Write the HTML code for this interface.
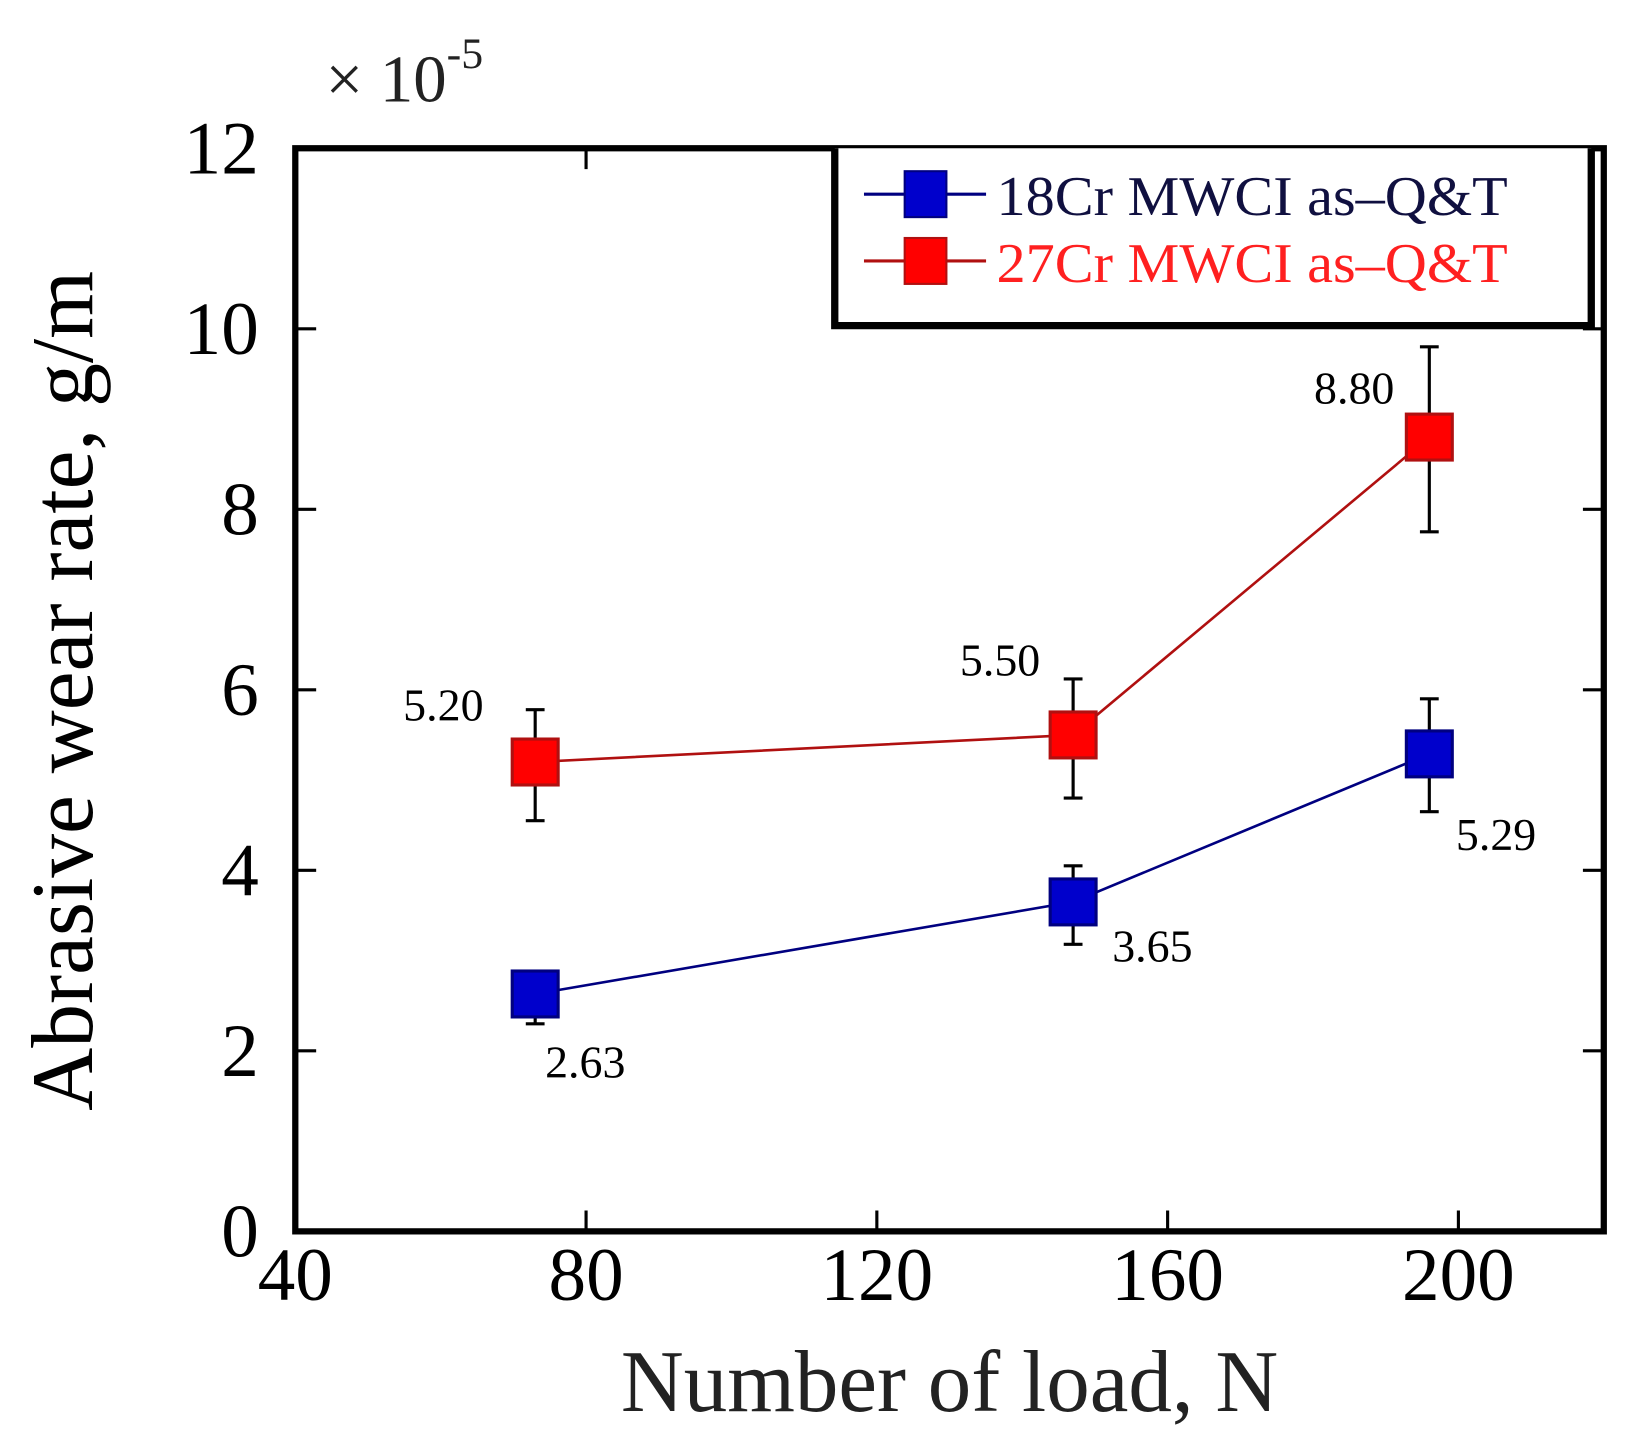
<!DOCTYPE html>
<html><head><meta charset="utf-8"><style>
html,body{margin:0;padding:0;background:#fff;}
svg{display:block;font-family:"Liberation Serif",serif;}
</style></head><body>
<svg id="chart" width="1633" height="1437" viewBox="0 0 1565 1377" xmlns="http://www.w3.org/2000/svg">
</svg>
<script>
const xTicks = [40, 80, 120, 160, 200];
const yTicks = [0, 2, 4, 6, 8, 10, 12];
const loads = [73, 147, 196];
const blueVals = [2.63, 3.65, 5.29];
const blueLo = [2.3, 3.18, 4.65];
const blueHi = [2.85, 4.05, 5.9];
const redVals = [5.2, 5.5, 8.8];
const redLo = [4.55, 4.8, 7.75];
const redHi = [5.78, 6.12, 9.8];
const blueLabels = ["2.63", "3.65", "5.29"];
const redLabels = ["5.20", "5.50", "8.80"];

const NS = "http://www.w3.org/2000/svg";
const svg = document.getElementById('chart');
const X0 = 283, X1 = 1537, Y0 = 1180, Y1 = 142;
const xS = v => X0 + (v - 40) / 180 * (X1 - X0);
const yS = v => Y0 - v / 12 * (Y0 - Y1);
function mk(tag, attrs, parent) {
  const e = document.createElementNS(NS, tag);
  for (const k in attrs) e.setAttribute(k, attrs[k]);
  (parent || svg).appendChild(e);
  return e;
}
xTicks.forEach((t, i) => {
  if (i > 0) {
    const tk = mk('line', {x1: xS(t), x2: xS(t), y1: Y0, y2: Y0 - 20, stroke: '#000', 'stroke-width': 3});
    
    
    const tt = mk('line', {x1: xS(t), x2: xS(t), y1: Y1, y2: Y1 + 20, stroke: '#000', 'stroke-width': 3});
    
    
  }
  const lb = mk('text', {x: xS(t), y: 1246, 'font-size': 72, 'text-anchor': 'middle'});
  lb.textContent = t;
  
  
});
yTicks.forEach((t, i) => {
  if (i > 0 && i < yTicks.length - 1) {
    const tk = mk('line', {x1: X0, x2: X0 + 20, y1: yS(t), y2: yS(t), stroke: '#000', 'stroke-width': 3});
    
    
    const tr = mk('line', {x1: X1, x2: X1 - 20, y1: yS(t), y2: yS(t), stroke: '#000', 'stroke-width': 3});
    
    
  }
  const lb = mk('text', {x: 248, y: yS(t) + 24, 'font-size': 72, 'text-anchor': 'end'});
  lb.textContent = t;
  
  
});
const fr = mk('rect', {x: X0, y: Y1, width: X1 - X0, height: Y0 - Y1, fill: 'none', stroke: '#000', 'stroke-width': 6});



function series(vals, lo, hi, labels, col, dark, name, offs) {
  const pts = vals.map((v, i) => xS(loads[i]) + ',' + yS(v)).join(' ');
  const pl = mk('polyline', {points: pts, fill: 'none', stroke: dark, 'stroke-width': 2.5});
  
  
  vals.forEach((v, i) => {
    const x = xS(loads[i]);
    const eb = mk('path', {d: `M${x},${yS(lo[i])}V${yS(hi[i])}M${x-9},${yS(lo[i])}H${x+9}M${x-9},${yS(hi[i])}H${x+9}`, stroke: '#000', 'stroke-width': 3, fill: 'none'});
    
    
    const m = mk('rect', {x: x - 22, y: yS(v) - 22, width: 44, height: 44, fill: col, stroke: dark, 'stroke-width': 3});
    
    
    const t = mk('text', {x: x + offs[i][0], y: yS(v) + offs[i][1], 'font-size': 44, 'text-anchor': 'middle'});
    t.textContent = labels[i];
    
    
  });
}
series(redVals, redLo, redHi, redLabels, '#ff0000', '#b01010', 'red-series', [[-88, -40], [-70, -57], [-72, -32]]);
series(blueVals, blueLo, blueHi, blueLabels, '#0000cc', '#000080', 'blue-series', [[48, 80], [76, 57], [64, 92]]);

const lg = mk('g', {});


mk('rect', {x: 800, y: 142, width: 725, height: 172, fill: '#fff', stroke: 'none'}, lg);
mk('path', {d: 'M800,142V312H1525V142', fill: 'none', stroke: '#000', 'stroke-width': 7}, lg);
[['18Cr MWCI as\u2013Q&T', '#0000cc', '#000080', '#101040', 186], ['27Cr MWCI as\u2013Q&T', '#ff0000', '#b01010', '#ff2020', 250]].forEach((d) => {
  const en = mk('g', {}, lg);
  
  
  mk('line', {x1: 828, x2: 945, y1: d[4], y2: d[4], stroke: d[2], 'stroke-width': 3}, en);
  mk('rect', {x: 867, y: d[4] - 22, width: 40, height: 44, fill: d[1], stroke: d[2], 'stroke-width': 2}, en);
  const t = mk('text', {x: 955, y: d[4] + 20, 'font-size': 54, fill: d[3], textLength: 490, lengthAdjust: 'spacingAndGlyphs'}, en);
  t.textContent = d[0];
});

const yt = mk('text', {x: 0, y: 0, 'font-size': 84, 'text-anchor': 'middle', transform: 'translate(88,662) rotate(-90)', textLength: 805, lengthAdjust: 'spacingAndGlyphs'});
yt.textContent = 'Abrasive wear rate, g/m';


const xt = mk('text', {x: 910, y: 1352, 'font-size': 84, 'text-anchor': 'middle', fill: '#222', textLength: 630, lengthAdjust: 'spacingAndGlyphs'});
xt.textContent = 'Number of load, N';


const sc = mk('text', {x: 312, y: 97, 'font-size': 64, fill: '#222'});
sc.innerHTML = '\u00d7 10<tspan dy="-32" font-size="42">-5</tspan>';


</script>
</body></html>
